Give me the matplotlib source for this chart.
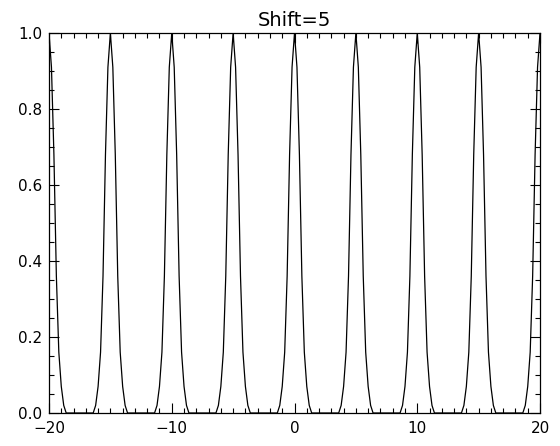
import numpy as np
from matplotlib import pyplot as plt
from matplotlib.ticker import MultipleLocator, FormatStrFormatter

font_name = 'DejaVu Sans'
padding_1 = 5
padding_2 = 6

# peak centres (shift = 5) and the shape of one peak
peak_centers = [-20, -15, -10, -5, 0, 5, 10, 15, 20]
peak_offsets = [-1.4, -1.2, -1.0, -0.8, -0.6, -0.4, -0.2, 0.0, 0.2, 0.4, 0.6, 0.8, 1.0, 1.2, 1.4]
peak_values = [0.0, 0.02, 0.07, 0.16, 0.36, 0.68, 0.91, 1.0, 0.91, 0.68, 0.36, 0.16, 0.07, 0.02, 0.0]

x_ticks = [-20, -10, 0, 10, 20]
y_ticks = [0.0, 0.2, 0.4, 0.6, 0.8, 1.0]


def shift_plot(file_path):
    x_values = []
    y_values = []
    for center in peak_centers:
        for offset, value in zip(peak_offsets, peak_values):
            x_values.append(center + offset)
            y_values.append(value)

    fig = plt.figure(figsize=(5.6, 4.46), dpi=100)
    ax = fig.add_axes([0.0875, 0.074, 0.8768, 0.852])
    ax.plot(x_values, y_values, color='black', linewidth=0.9)
    ax.set_xlim(-20, 20)
    ax.set_ylim(0, 1)
    ax.set_xticks(x_ticks)
    ax.set_yticks(y_ticks)
    ax.xaxis.set_minor_locator(MultipleLocator(1))
    ax.yaxis.set_minor_locator(MultipleLocator(0.05))
    ax.yaxis.set_major_formatter(FormatStrFormatter('%.1f'))
    ax.tick_params(which='both', direction='in', top=True, right=True, width=0.8, colors='black')
    ax.tick_params(which='major', length=7.2)
    ax.tick_params(which='minor', length=3.6)
    ax.tick_params(axis='x', pad=padding_2, labelsize=11)
    ax.tick_params(axis='y', pad=padding_1, labelsize=11)
    for spine in ax.spines.values():
        spine.set_linewidth(0.9)
    ax.set_title('Shift=5', fontname=font_name, fontsize=14, pad=5)
    plt.savefig(file_path, dpi=100)
    plt.close()


shift_plot('out.png')
